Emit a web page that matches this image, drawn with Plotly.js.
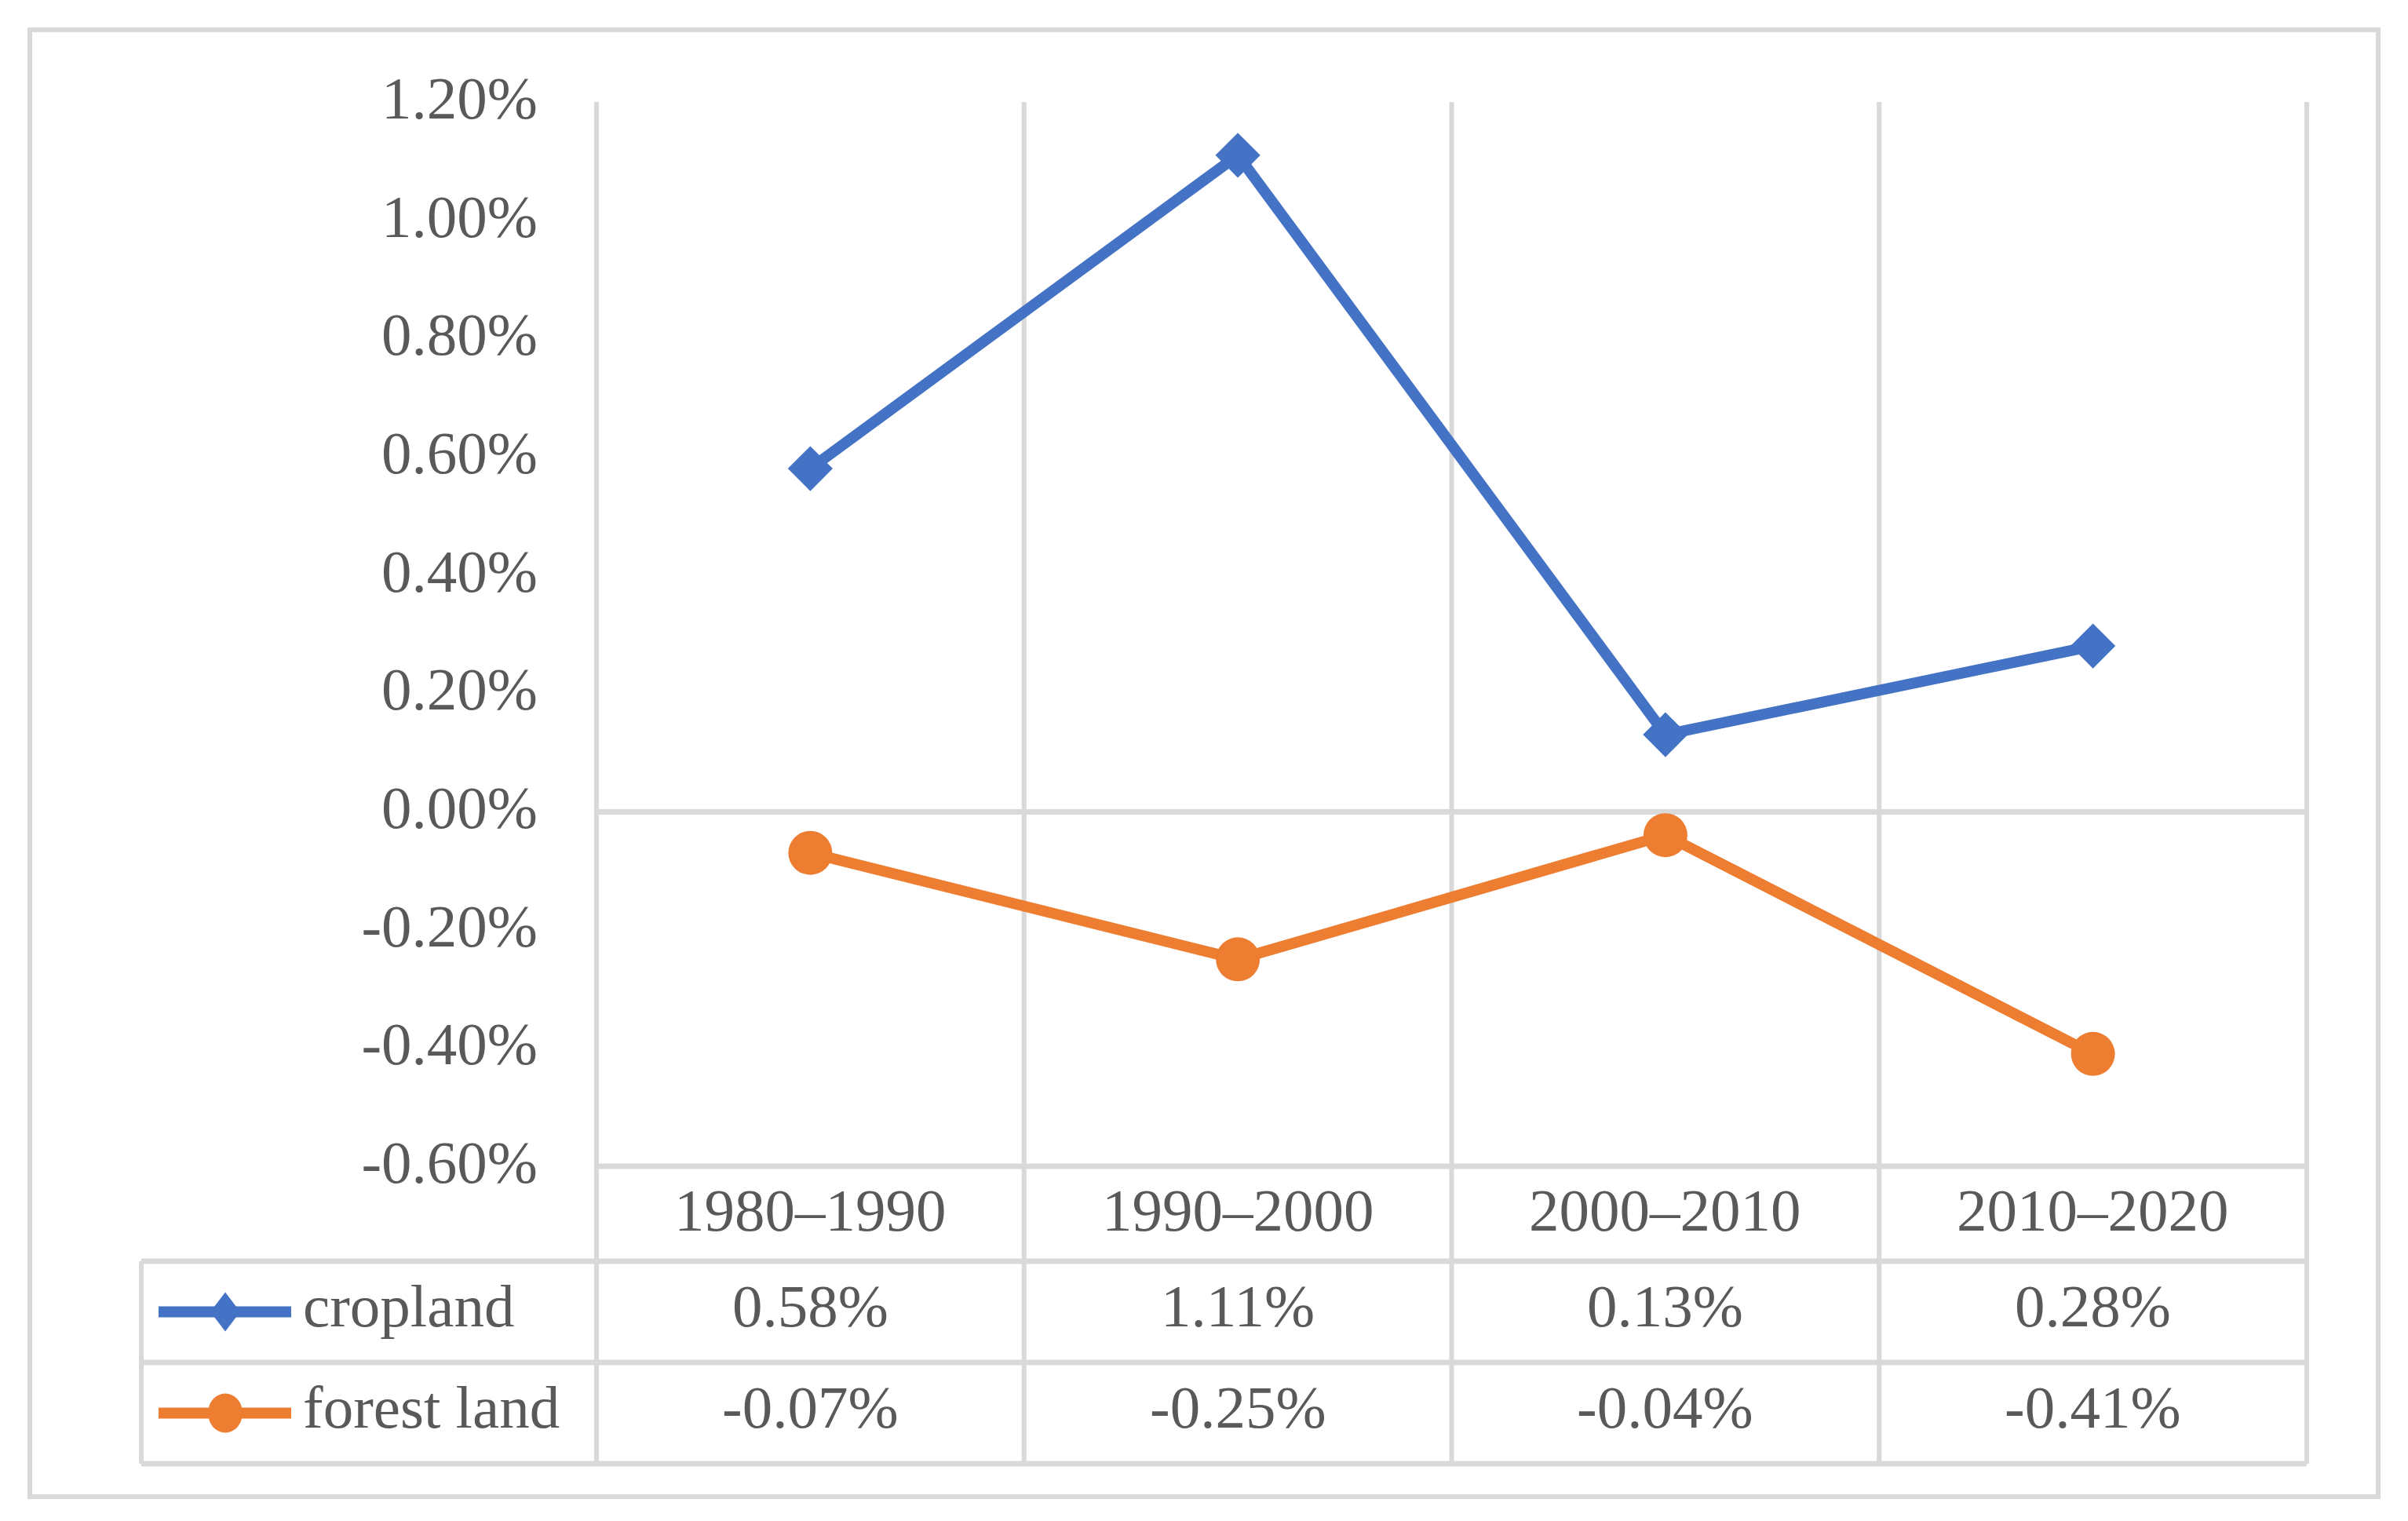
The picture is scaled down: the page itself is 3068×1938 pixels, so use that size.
<!DOCTYPE html>
<html>
<head>
<meta charset="utf-8">
<script src="https://cdn.plot.ly/plotly-3.0.1.min.js"></script>
<style>
  html, body { margin: 0; padding: 0; background: #ffffff; }
  #chart { width: 3068px; height: 1938px; }
</style>
</head>
<body>
<div id="chart"></div>
<script>
// ---- data ----
const periods = ['1980–1990', '1990–2000', '2000–2010', '2010–2020'];
const seriesNames = ['cropland', 'forest land'];
const cropland = [0.58, 1.11, 0.13, 0.28];
const forestLand = [-0.07, -0.25, -0.04, -0.41];
const yTickVals = [-0.6, -0.4, -0.2, 0, 0.2, 0.4, 0.6, 0.8, 1.0, 1.2];
const yTickText = ['-0.60%', '-0.40%', '-0.20%', '0.00%', '0.20%', '0.40%', '0.60%', '0.80%', '1.00%', '1.20%'];

// ---- styles / layout geometry ----
const W = 3068, H = 1938;
const PL = 760, PR = 2939, PT = 130, PB = 1486;
const BLUE = '#4472C4', ORANGE = '#ED7D31', GRID = '#d9d9d9', TXT = '#595959';
const FONT = 'Liberation Serif, Times New Roman, serif';
const FS = 77;
const px = v => (v - PL) / (PR - PL);
const py = v => (PB - v) / (PB - PT);

const rowHeaderBottom = 1607, rowCropBottom = 1736, rowForestBottom = 1865;
const tableLeft = 180;
const headerY = (PB + rowHeaderBottom) / 2 - 5;
const cropY = (rowHeaderBottom + rowCropBottom) / 2 - 8;
const forestY = (rowCropBottom + rowForestBottom) / 2 - 8;
const keyCropY = (rowHeaderBottom + rowCropBottom) / 2;
const keyForestY = (rowCropBottom + rowForestBottom) / 2;

const fmt = v => v.toFixed(2) + '%';

const traces = [
  {
    x: periods, y: cropland, name: seriesNames[0], type: 'scatter', mode: 'lines+markers',
    line: { color: BLUE, width: 14 },
    marker: { symbol: 'diamond', size: 44, color: BLUE },
    showlegend: false, cliponaxis: false, hoverinfo: 'skip'
  },
  {
    x: periods, y: forestLand, name: seriesNames[1], type: 'scatter', mode: 'lines+markers',
    line: { color: ORANGE, width: 14 },
    marker: { symbol: 'circle', size: 56, color: ORANGE },
    showlegend: false, cliponaxis: false, hoverinfo: 'skip'
  }
];

const shapes = [];
const lineShape = (x0, y0, x1, y1, color, width) => ({
  type: 'line', xref: 'paper', yref: 'paper',
  x0: px(x0), y0: py(y0), x1: px(x1), y1: py(y1),
  line: { color: color, width: width }, layer: 'below'
});

// outer chart border
shapes.push({
  type: 'rect', xref: 'paper', yref: 'paper',
  x0: px(38), y0: py(38), x1: px(3030), y1: py(1907),
  line: { color: GRID, width: 6 }, fillcolor: 'rgba(0,0,0,0)', layer: 'below'
});

// vertical category dividers (plot + table)
const n = periods.length;
for (let k = 0; k <= n; k++) {
  const xx = PL + (PR - PL) * k / n;
  shapes.push(lineShape(xx, PT, xx, rowForestBottom, GRID, 6));
}
// horizontal table lines
shapes.push(lineShape(PL, PB, PR, PB, GRID, 7));
shapes.push(lineShape(tableLeft, rowHeaderBottom, PR, rowHeaderBottom, GRID, 7));
shapes.push(lineShape(tableLeft, rowCropBottom, PR, rowCropBottom, GRID, 7));
shapes.push(lineShape(tableLeft, rowForestBottom, PR, rowForestBottom, GRID, 7));
shapes.push(lineShape(tableLeft, rowHeaderBottom, tableLeft, rowForestBottom, GRID, 6));

// legend keys in table
const keyX0 = 202, keyX1 = 371, keyCx = 287;
shapes.push(Object.assign(lineShape(keyX0, keyCropY, keyX1, keyCropY, BLUE, 14), { layer: 'above' }));
const dPath = (cx, cy, hw, hh) =>
  'M' + px(cx) + ',' + py(cy - hh) + ' L' + px(cx + hw) + ',' + py(cy) +
  ' L' + px(cx) + ',' + py(cy + hh) + ' L' + px(cx - hw) + ',' + py(cy) + ' Z';
shapes.push({
  type: 'path', xref: 'paper', yref: 'paper', path: dPath(keyCx, keyCropY, 19, 25),
  fillcolor: BLUE, line: { color: BLUE, width: 0 }, layer: 'above'
});
shapes.push(Object.assign(lineShape(keyX0, keyForestY, keyX1, keyForestY, ORANGE, 14), { layer: 'above' }));
shapes.push({
  type: 'circle', xref: 'paper', yref: 'paper',
  x0: px(keyCx - 22), x1: px(keyCx + 22), y0: py(keyForestY + 25), y1: py(keyForestY - 25),
  fillcolor: ORANGE, line: { color: ORANGE, width: 0 }, layer: 'above'
});

// annotations (table text)
const font = { family: FONT, size: FS, color: TXT };
const annotations = [];
periods.forEach((p, i) => {
  annotations.push({ x: p, xref: 'x', y: py(headerY), yref: 'paper', text: p,
    showarrow: false, xanchor: 'center', yanchor: 'middle', font: font });
  annotations.push({ x: p, xref: 'x', y: py(cropY), yref: 'paper', text: fmt(cropland[i]),
    showarrow: false, xanchor: 'center', yanchor: 'middle', font: font });
  annotations.push({ x: p, xref: 'x', y: py(forestY), yref: 'paper', text: fmt(forestLand[i]),
    showarrow: false, xanchor: 'center', yanchor: 'middle', font: font });
});
annotations.push({ x: px(384), xref: 'paper', y: py(cropY), yref: 'paper', text: seriesNames[0],
  showarrow: false, xanchor: 'left', yanchor: 'middle', font: font });
annotations.push({ x: px(384), xref: 'paper', y: py(forestY), yref: 'paper', text: seriesNames[1],
  showarrow: false, xanchor: 'left', yanchor: 'middle', font: font });

const layout = {
  width: W, height: H,
  margin: { l: PL, r: W - PR, t: PT, b: H - PB, pad: 0 },
  paper_bgcolor: '#ffffff', plot_bgcolor: 'rgba(0,0,0,0)',
  showlegend: false,
  xaxis: {
    type: 'category', range: [-0.5, n - 0.5], showgrid: false, zeroline: false,
    showline: false, showticklabels: false, ticks: '', fixedrange: true
  },
  yaxis: {
    range: [-0.6, 1.2], tickvals: yTickVals, ticktext: yTickText,
    showgrid: false, zeroline: true, zerolinecolor: GRID, zerolinewidth: 7,
    showline: false, ticks: '', ticklabelstandoff: 74, ticklabelshift: -6,
    tickfont: font, fixedrange: true
  },
  shapes: shapes,
  annotations: annotations
};

Plotly.newPlot('chart', traces, layout, { staticPlot: true, displayModeBar: false });
</script>
</body>
</html>
